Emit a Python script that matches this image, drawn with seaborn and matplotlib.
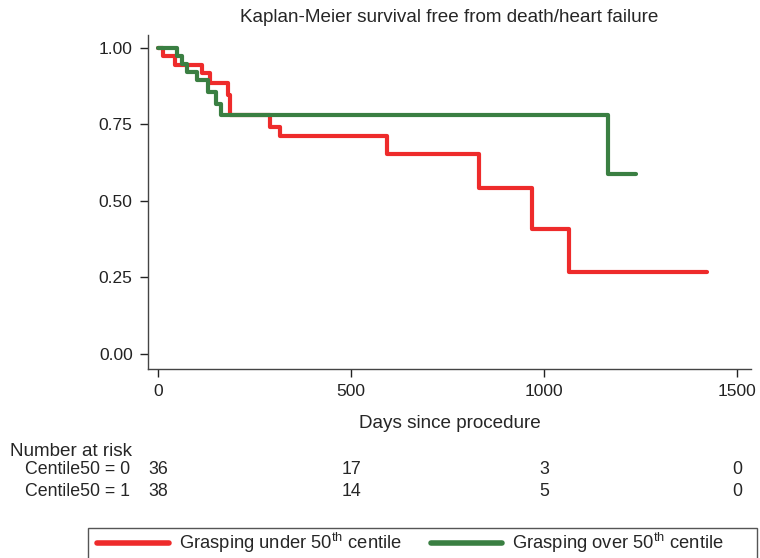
import pandas as pd
import matplotlib
matplotlib.use("Agg")
import matplotlib.pyplot as plt
import seaborn as sns
from matplotlib.lines import Line2D
from matplotlib.patches import Rectangle
from matplotlib.transforms import blended_transform_factory

sns.set_style("ticks")
plt.rcParams["font.family"] = ["Liberation Sans", "DejaVu Sans"]
plt.rcParams["mathtext.fontset"] = "custom"
plt.rcParams["mathtext.rm"] = "Liberation Sans"
plt.rcParams["mathtext.it"] = "Liberation Sans:italic"

# KM step points (day, survival)
under_days = [0, 12, 45, 113, 134, 181, 186, 290, 316, 593, 832, 968, 1065, 1421]
under_surv = [1.0, 0.972, 0.944, 0.917, 0.885, 0.846, 0.782, 0.743, 0.712, 0.654, 0.541, 0.407, 0.269, 0.269]
over_days = [0, 48, 62, 75, 100, 130, 150, 162, 1166, 1238]
over_surv = [1.0, 0.974, 0.947, 0.921, 0.895, 0.855, 0.815, 0.782, 0.587, 0.587]

group_names = ["Grasping under 50$^{\\mathrm{th}}$ centile", "Grasping over 50$^{\\mathrm{th}}$ centile"]
colors = ["#EE2B2B", "#3A7F42"]

# number at risk
risk_times = [0, 500, 1000, 1500]
risk_under = [36, 17, 3, 0]
risk_over = [38, 14, 5, 0]
risk_rows = ["Centile50 = 0", "Centile50 = 1"]

df = pd.concat([
    pd.DataFrame({"day": under_days, "surv": under_surv, "group": group_names[0]}),
    pd.DataFrame({"day": over_days, "surv": over_surv, "group": group_names[1]}),
])

fig = plt.figure(figsize=(7.6, 5.58), dpi=100)
ax = fig.add_axes([148 / 760, 1 - 369 / 558, (751 - 148) / 760, (369 - 35) / 558])

sns.lineplot(data=df, x="day", y="surv", hue="group", palette=colors,
             drawstyle="steps-post", estimator=None, sort=False,
             lw=3, legend=False, ax=ax)

ax.set_xlim(-26, 1536)
ax.set_ylim(-0.049, 1.042)
ax.set_xticks(risk_times)
ax.set_xticklabels([str(t) for t in risk_times])
yt = [0, 0.25, 0.5, 0.75, 1.0]
ax.set_yticks(yt)
ax.set_yticklabels([f"{v:.2f}" for v in yt])
ax.tick_params(direction="out", length=6, width=1, pad=5, labelsize=12.5, colors="#222222")
sns.despine(ax=ax)
for s in ["left", "bottom"]:
    ax.spines[s].set_linewidth(1)
    ax.spines[s].set_color("#444444")
ax.set_xlabel("Days since procedure", fontsize=13.6, labelpad=11)
ax.set_ylabel("")

fig.text(449 / 760, 1 - 18 / 558, "Kaplan-Meier survival free from death/heart failure",
         ha="center", va="center", fontsize=13.6)

# number at risk table
fig.text(10 / 760, 1 - 451 / 558, "Number at risk", ha="left", va="center", fontsize=13.6)
trans = blended_transform_factory(ax.transData, fig.transFigure)
for row_label, counts, yy in [(risk_rows[0], risk_under, 470), (risk_rows[1], risk_over, 492)]:
    fig.text(25 / 760, 1 - yy / 558, row_label, ha="left", va="center", fontsize=12.8)
    for t, n in zip(risk_times, counts):
        ax.text(t, 1 - yy / 558, str(n), transform=trans, ha="center", va="center",
                fontsize=12.8, clip_on=False)

# legend
handles = [Line2D([], [], color=c, lw=4) for c in colors]
fig.legend(handles, group_names, loc="center left", bbox_to_anchor=(97 / 760, 1 - 543 / 558),
           ncol=2, frameon=False, fontsize=13.2, handlelength=3.9, handletextpad=0.55,
           columnspacing=1.6, borderpad=0, borderaxespad=0)
fig.add_artist(Rectangle((88 / 760, -0.05), 669 / 760, 0.05 + 1 - 528 / 558,
                         transform=fig.transFigure, fill=False, edgecolor="#555555", lw=1))

fig.savefig("out.png", dpi=100)
